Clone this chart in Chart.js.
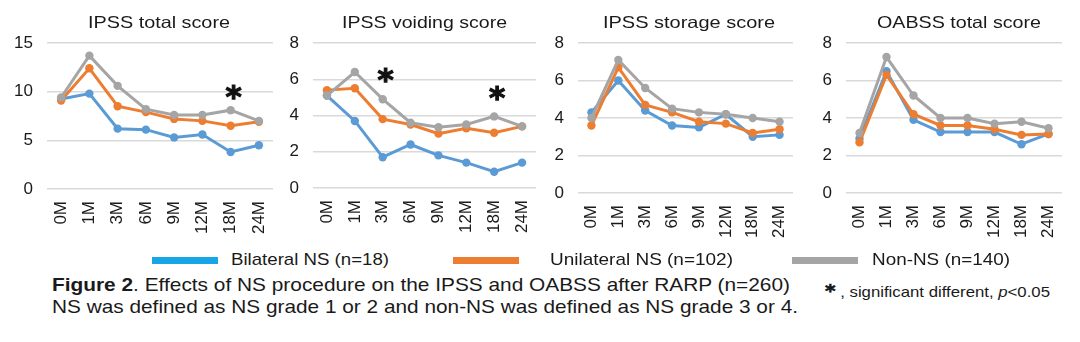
<!DOCTYPE html>
<html>
<head>
<meta charset="utf-8">
<script src="https://cdn.jsdelivr.net/npm/chart.js@4.4.1/dist/chart.umd.min.js"></script>
<style>
    body { margin: 0; width: 1080px; height: 342px; overflow: hidden; position: relative; background: #fff;
           font-family: "Liberation Sans", Arial, sans-serif; color: #1a1a1a; }
    .panel { position: absolute; top: 0; height: 240px; }
    .fit { position: absolute; white-space: nowrap; line-height: 1; transform-origin: 0 0; }
    .swatch { position: absolute; height: 7px; }
</style>
</head>
<body>
<div id="charts"></div>
<div id="legend"></div>
<div class="fit" style="left:52px;top:275px;font-size:19px" data-w="738"><b>Figure 2</b>. Effects of NS procedure on the IPSS and OABSS after RARP (n=260)</div>
<div class="fit" style="left:52px;top:297px;font-size:19px" data-w="746">NS was defined as NS grade 1 or 2 and non-NS was defined as NS grade 3 or 4.</div>
<div class="fit" style="left:825px;top:282px;font-size:15px" data-w="225"><b style="font-family:'DejaVu Sans';font-size:18px;-webkit-text-stroke:0.6px #111">*</b> , significant different, <i>p</i>&lt;0.05</div>

<script>
// Chart data
const months = ['0M', '1M', '3M', '6M', '9M', '12M', '18M', '24M'];
const groupNames = ['Bilateral NS (n=18)', 'Unilateral NS (n=102)', 'Non-NS (n=140)'];
const groupColors = ['#5B9BD5', '#ED7D31', '#A5A5A5'];
const legendColors = ['#17A5E6', '#ED7D31', '#A5A5A5'];
const panelTitles = ['IPSS total score', 'IPSS voiding score', 'IPSS storage score', 'OABSS total score'];
const yMax = [15, 8, 8, 8];
const yStep = [5, 2, 2, 2];

const ipssTotalBilateral  = [9.25, 9.8, 6.2, 6.1, 5.3, 5.6, 3.8, 4.5];
const ipssTotalUnilateral = [9.1, 12.4, 8.5, 7.9, 7.2, 7.0, 6.5, 6.9];
const ipssTotalNonNS      = [9.4, 13.7, 10.6, 8.2, 7.6, 7.6, 8.1, 7.0];

const voidingBilateral  = [5.1, 3.7, 1.7, 2.4, 1.8, 1.4, 0.9, 1.4];
const voidingUnilateral = [5.4, 5.5, 3.8, 3.5, 3.0, 3.3, 3.05, 3.4];
const voidingNonNS      = [5.1, 6.4, 4.9, 3.6, 3.35, 3.5, 3.95, 3.4];

const storageBilateral  = [4.3, 6.0, 4.4, 3.6, 3.5, 4.2, 3.0, 3.1];
const storageUnilateral = [3.6, 6.7, 4.7, 4.3, 3.8, 3.7, 3.2, 3.4];
const storageNonNS      = [4.0, 7.1, 5.6, 4.5, 4.3, 4.2, 4.0, 3.8];

const oabssBilateral  = [2.9, 6.5, 3.9, 3.25, 3.25, 3.25, 2.6, 3.15];
const oabssUnilateral = [2.7, 6.3, 4.2, 3.6, 3.6, 3.4, 3.1, 3.15];
const oabssNonNS      = [3.2, 7.25, 5.2, 4.0, 4.0, 3.7, 3.8, 3.45];

// significant-difference marks: [month, y value]
const ipssTotalStars = [['18M', 10.3]];
const voidingStars = [['3M', 6.4], ['18M', 5.4]];

const panelSeries = [
    [ipssTotalBilateral, ipssTotalUnilateral, ipssTotalNonNS],
    [voidingBilateral, voidingUnilateral, voidingNonNS],
    [storageBilateral, storageUnilateral, storageNonNS],
    [oabssBilateral, oabssUnilateral, oabssNonNS]
];
const panelStars = [ipssTotalStars, voidingStars, [], []];

// layout of each small chart (canvas box and plot area)
const panelBoxes = [
    { left: 0,   width: 290, axisW: 47, padRight: 17, bottom: 189, titleX: 88,  titleW: 142 },
    { left: 270, width: 283, axisW: 43, padRight: 17, bottom: 188, titleX: 342, titleW: 165 },
    { left: 540, width: 270, axisW: 38, padRight: 17, bottom: 193, titleX: 603, titleW: 172 },
    { left: 810, width: 270, axisW: 36, padRight: 18, bottom: 193, titleX: 877, titleW: 164 }
];

const starPlugin = {
    id: 'stars',
    afterDatasetsDraw(chart, args, opts) {
        const { ctx, scales } = chart;
        ctx.save();
        ctx.fillStyle = '#111';
        ctx.strokeStyle = '#111';
        ctx.lineWidth = 1.2;
        ctx.font = 'bold 31px "DejaVu Sans"';
        ctx.textAlign = 'center';
        ctx.textBaseline = 'alphabetic';
        (opts.marks || []).forEach(([m, v]) => {
            const x = scales.x.getPixelForValue(months.indexOf(m)) + 3;
            const y = scales.y.getPixelForValue(v);
            ctx.fillText('*', x, y + 18);
            ctx.strokeText('*', x, y + 18);
        });
        ctx.restore();
    }
};

const tickFont = { family: '"Liberation Sans", Arial, sans-serif', size: 17 };
const holder = document.getElementById('charts');

panelBoxes.forEach((box, p) => {
    const div = document.createElement('div');
    div.className = 'panel';
    div.style.left = box.left + 'px';
    div.style.width = box.width + 'px';
    div.innerHTML = '<canvas></canvas>';
    holder.appendChild(div);

    const title = document.createElement('div');
    title.className = 'fit';
    title.style.left = box.titleX + 'px';
    title.style.top = '14px';
    title.style.fontSize = '16.5px';
    title.dataset.w = box.titleW;
    title.textContent = panelTitles[p];
    document.body.appendChild(title);

    new Chart(div.querySelector('canvas'), {
        type: 'line',
        data: {
            labels: months,
            datasets: panelSeries[p].map((values, i) => ({
                label: groupNames[i],
                data: values,
                borderColor: groupColors[i],
                backgroundColor: groupColors[i],
                borderWidth: 3,
                pointRadius: 4.2,
                pointBorderWidth: 0,
                tension: 0,
                order: 2 - i
            }))
        },
        options: {
            responsive: true,
            maintainAspectRatio: false,
            animation: false,
            layout: { padding: { top: 43, right: box.padRight, left: 0, bottom: 0 } },
            plugins: {
                legend: { display: false },
                tooltip: { enabled: false },
                stars: { marks: panelStars[p] }
            },
            scales: {
                x: {
                    offset: true,
                    grid: { display: false },
                    border: { display: false },
                    ticks: { font: tickFont, color: '#1a1a1a', minRotation: 90, maxRotation: 90, padding: 4, autoSkip: false },
                    afterFit: (scale) => { scale.height = 240 - box.bottom; }
                },
                y: {
                    min: 0,
                    max: yMax[p],
                    grid: { color: '#D9D9D9', lineWidth: 1.5, drawTicks: false },
                    border: { display: false },
                    ticks: { font: tickFont, color: '#1a1a1a', stepSize: yStep[p], padding: 14 },
                    afterFit: (scale) => { scale.width = box.axisW; }
                }
            }
        },
        plugins: [starPlugin]
    });
});

// legend
const legendPos = [
    { sw: 152, tx: 231, tw: 158 },
    { sw: 453, tx: 550, tw: 183 },
    { sw: 792, tx: 872, tw: 138 }
];
const legend = document.getElementById('legend');
legendPos.forEach((lp, i) => {
    const sw = document.createElement('div');
    sw.className = 'swatch';
    sw.style.cssText = `left:${lp.sw}px;top:257px;width:66px;background:${legendColors[i]}`;
    legend.appendChild(sw);
    const tx = document.createElement('div');
    tx.className = 'fit';
    tx.style.cssText = `left:${lp.tx}px;top:251px;font-size:17px`;
    tx.dataset.w = lp.tw;
    tx.textContent = groupNames[i];
    legend.appendChild(tx);
});

// stretch html text to the measured widths of the original
document.querySelectorAll('.fit').forEach(el => {
    const w = el.getBoundingClientRect().width;
    el.style.transform = `scaleX(${el.dataset.w / w})`;
});
</script>
</body>
</html>
